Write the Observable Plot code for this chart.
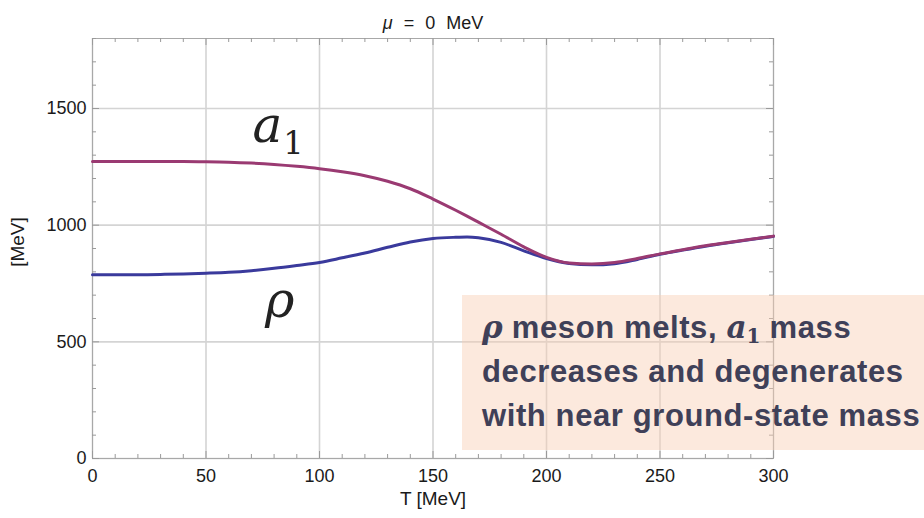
<!DOCTYPE html>
<html>
<head>
<meta charset="utf-8">
<script src="https://cdn.jsdelivr.net/npm/d3@7"></script>
<script src="https://cdn.jsdelivr.net/npm/@observablehq/plot@0.6"></script>
<style>
  html, body { margin: 0; padding: 0; background: #fff; }
  #wrap { position: relative; width: 924px; height: 518px; overflow: hidden; }
  #note {
    position: absolute; left: 462px; top: 295px; width: 470px; height: 155px;
    background: rgba(248, 206, 180, 0.45);
    font-family: "Liberation Sans", Helvetica, Arial, sans-serif;
    font-weight: bold; font-size: 31px; letter-spacing: 0.6px; color: #3f4058;
    line-height: 44px; box-sizing: border-box; padding: 10px 0 0 20px;
    white-space: nowrap;
  }
  #note .m { font-family: "DejaVu Serif", serif; font-style: italic; letter-spacing: 0; }
  #note sub { font-size: 20px; font-style: normal; vertical-align: -5px; line-height: 0; }
</style>
</head>
<body>
<div id="wrap"></div>
<script>
// Temperature grid (MeV)
const T = [0,10,20,30,40,50,60,70,80,90,100,110,120,130,140,150,160,165,170,180,190,200,210,220,230,240,250,260,270,280,290,300];
// a1 meson mass (MeV)
const a1Mass = [1273,1273,1273,1273,1273,1272,1270,1266,1260,1252,1242,1229,1212,1188,1156,1112,1064,1039,1013,961,907,862,838,834,840,857,877,895,912,926,940,953];
// rho meson mass (MeV)
const rhoMass = [788,788,788,789,791,794,798,805,815,827,840,860,881,905,928,943,948,949,946,926,890,857,836,830,835,853,875,893,910,925,939,952];

const xTicks = [0,50,100,150,200,250,300];
const yTicks = [0,500,1000,1500];
const xMinor = d3.range(0, 301, 10).filter(v => v % 50 !== 0);
const yMinor = d3.range(0, 1801, 100).filter(v => v % 500 !== 0);

const titleMu = "μ";
const titleRest = " = 0 MeV";
const xLabel = "T [MeV]";
const yLabel = "[MeV]";
const labelA = [{T: 70.5, m: 1423, text: "a"}];
const labelSub = [{T: 84, m: 1350, text: "1"}];
const labelRho = [{T: 76, m: 673, text: "ρ"}];

const a1 = T.map((t, i) => ({T: t, m: a1Mass[i]}));
const rho = T.map((t, i) => ({T: t, m: rhoMass[i]}));

const W = 924, H = 518, ML = 92, MR = 151, MT = 38, MB = 60;
const PW = W - ML - MR, PH = H - MT - MB;
const tickCol = "#9a9a9a";
const serif = "DejaVu Serif, serif";

const chart = Plot.plot({
  width: W, height: H,
  marginLeft: ML, marginRight: MR, marginTop: MT, marginBottom: MB,
  x: {domain: [0, 300]},
  y: {domain: [0, 1800]},
  style: {fontFamily: "Liberation Sans, Helvetica, Arial, sans-serif", fontSize: "18px", color: "#1a1a1a", background: "#fff"},
  marks: [
    Plot.gridX(xTicks, {stroke: "#d4d4d4", strokeOpacity: 1, strokeWidth: 1.6}),
    Plot.gridY(yTicks, {stroke: "#d4d4d4", strokeOpacity: 1, strokeWidth: 1.6}),
    Plot.frame({stroke: "#a8a8a8", strokeWidth: 1}),
    Plot.tickX(xMinor, {x: d => d, insetTop: PH - 4, stroke: tickCol}),
    Plot.tickX(xMinor, {x: d => d, insetBottom: PH - 4, stroke: tickCol}),
    Plot.tickY(yMinor, {y: d => d, insetRight: PW - 4, stroke: tickCol}),
    Plot.tickY(yMinor, {y: d => d, insetLeft: PW - 4, stroke: tickCol}),
    Plot.tickX(xTicks, {x: d => d, insetTop: PH - 7, stroke: tickCol}),
    Plot.tickX(xTicks, {x: d => d, insetBottom: PH - 7, stroke: tickCol}),
    Plot.tickY(yTicks, {y: d => d, insetRight: PW - 7, stroke: tickCol}),
    Plot.tickY(yTicks, {y: d => d, insetLeft: PW - 7, stroke: tickCol}),
    Plot.axisX(xTicks, {tickSize: 0, tickPadding: 11, label: null, fontSize: 18, tickFormat: d => String(d)}),
    Plot.axisY(yTicks, {tickSize: 0, tickPadding: 6, label: null, fontSize: 18, tickFormat: d => String(d)}),
    Plot.text([xLabel], {frameAnchor: "bottom", lineAnchor: "middle", dy: 40, fontSize: 19, className: "lbl"}),
    Plot.text([yLabel], {frameAnchor: "left", lineAnchor: "middle", rotate: -90, fontSize: 19, className: "ylbl"}),
    Plot.text([titleMu + titleRest], {frameAnchor: "top", lineAnchor: "middle", dy: -15, fontSize: 18, className: "ttl"}),
    Plot.line(rho, {x: "T", y: "m", stroke: "#3a3a9c", strokeWidth: 3, curve: "monotone-x"}),
    Plot.line(a1, {x: "T", y: "m", stroke: "#9a3a72", strokeWidth: 3, curve: "monotone-x"}),
    Plot.text(labelA, {x: "T", y: "m", text: "text", fontSize: 50, fontStyle: "italic", fontFamily: serif, fill: "#222", textAnchor: "start"}),
    Plot.text(labelSub, {x: "T", y: "m", text: "text", fontSize: 32, fontFamily: serif, fill: "#222", textAnchor: "start"}),
    Plot.text(labelRho, {x: "T", y: "m", text: "text", fontSize: 50, fontStyle: "italic", fontFamily: serif, fill: "#222", textAnchor: "start"})
  ]
});

// italic μ in title
d3.select(chart).selectAll("g.ttl text").each(function () {
  const t = d3.select(this);
  t.text(null);
  t.append("tspan").attr("font-style", "italic").text(titleMu);
  t.append("tspan").text(titleRest);
}).style("font-size", "18px").style("word-spacing", "6px");
d3.select(chart).selectAll("g.lbl text").style("font-size", "19px");
// y-axis title: place at left of the frame's mid-height
d3.select(chart).selectAll("g.ylbl").attr("transform", null);
d3.select(chart).selectAll("g.ylbl text")
  .style("font-size", "19px")
  .attr("text-anchor", "middle")
  .attr("x", null).attr("y", null)
  .attr("transform", `translate(24,${MT + PH / 2 - 6}) rotate(-90)`);

const wrap = document.getElementById("wrap");
wrap.appendChild(chart);
const note = document.createElement("div");
note.id = "note";
note.innerHTML = '<span class="m">ρ</span> meson melts, <span class="m">a<sub>1</sub></span> mass<br>decreases and degenerates<br>with near ground-state mass';
wrap.appendChild(note);
</script>
</body>
</html>
